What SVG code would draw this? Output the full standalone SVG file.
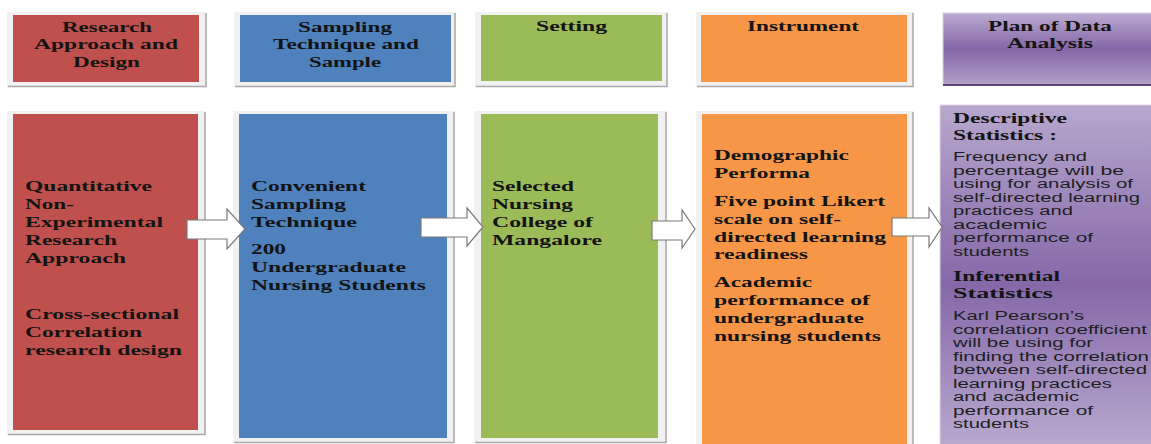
<svg xmlns="http://www.w3.org/2000/svg" width="1151" height="444" viewBox="0 0 1151 444">
<style>
.frame{fill:#f1f1f1}
.shadow{fill:none;stroke:#a9a9a9;stroke-width:1.5}
.red{fill:#c0504d}
.blue{fill:#4f81bd}
.green{fill:#9bbb59}
.orange{fill:#f79646}
.b{font-family:"Liberation Serif","Times New Roman",serif;font-weight:bold;font-size:14px;fill:#141414}
.s{font-family:"Liberation Sans",Arial,sans-serif;font-size:12.5px;fill:#1e1e1e}
.arrow{fill:#ffffff;stroke:#7a7a7a;stroke-width:1.2}
</style>
<defs>
<linearGradient id="pTop" x1="0" y1="0" x2="0" y2="1">
<stop offset="0" stop-color="#bcabd2"/>
<stop offset="0.5" stop-color="#8466a6"/>
<stop offset="1" stop-color="#b3a1ca"/>
</linearGradient>
<linearGradient id="pBot" x1="0" y1="0" x2="0" y2="1">
<stop offset="0" stop-color="#b7a7cd"/>
<stop offset="0.52" stop-color="#8668a9"/>
<stop offset="1" stop-color="#b9aacf"/>
</linearGradient>
</defs>
<rect width="1151" height="444" fill="#ffffff"/>

<g id="node-research-title">
<rect class="frame" x="7" y="12" width="200" height="75"/>
<path class="shadow" d="M206,13 V86.5 H8"/>
<rect class="red" x="13" y="15" width="186" height="67"/>
<text class="b" x="62" y="32" textLength="90" lengthAdjust="spacingAndGlyphs">Research</text>
<text class="b" x="34" y="49" textLength="144" lengthAdjust="spacingAndGlyphs">Approach and</text>
<text class="b" x="73" y="67" textLength="67" lengthAdjust="spacingAndGlyphs">Design</text>
</g>

<g id="node-sampling-title">
<rect class="frame" x="234" y="12" width="222" height="75"/>
<path class="shadow" d="M455,13 V86.5 H235"/>
<rect class="blue" x="240" y="15" width="211" height="67"/>
<text class="b" x="298" y="32" textLength="94" lengthAdjust="spacingAndGlyphs">Sampling</text>
<text class="b" x="273" y="49" textLength="146" lengthAdjust="spacingAndGlyphs">Technique and</text>
<text class="b" x="309" y="67" textLength="72" lengthAdjust="spacingAndGlyphs">Sample</text>
</g>

<g id="node-setting-title">
<rect class="frame" x="475" y="12" width="193" height="75"/>
<path class="shadow" d="M667,13 V86.5 H476"/>
<rect class="green" x="481" y="15" width="181" height="66"/>
<text class="b" x="536" y="31" textLength="71" lengthAdjust="spacingAndGlyphs">Setting</text>
</g>

<g id="node-instrument-title">
<rect class="frame" x="696" y="12" width="218" height="75"/>
<path class="shadow" d="M913,13 V86.5 H697"/>
<rect class="orange" x="701" y="15" width="206" height="67"/>
<text class="b" x="747" y="31" textLength="112" lengthAdjust="spacingAndGlyphs">Instrument</text>
</g>

<g id="node-analysis-title">
<rect x="943" y="13" width="210" height="72" fill="url(#pTop)" stroke="#d9d2e3" stroke-width="1"/>
<path d="M943,85 H1151" stroke="#5a4775" stroke-width="2" fill="none"/>
<text class="b" x="988" y="31" textLength="124" lengthAdjust="spacingAndGlyphs">Plan of Data</text>
<text class="b" x="1007" y="48" textLength="86" lengthAdjust="spacingAndGlyphs">Analysis</text>
</g>

<g id="node-research">
<rect class="frame" x="7" y="111" width="199" height="324"/>
<path class="shadow" d="M205,112 V434.5 H8"/>
<rect class="red" x="13" y="114" width="185" height="316"/>
<text class="b" x="25" y="191" textLength="127" lengthAdjust="spacingAndGlyphs">Quantitative</text>
<text class="b" x="25" y="209" textLength="49" lengthAdjust="spacingAndGlyphs">Non-</text>
<text class="b" x="25" y="227" textLength="138" lengthAdjust="spacingAndGlyphs">Experimental</text>
<text class="b" x="25" y="245" textLength="92" lengthAdjust="spacingAndGlyphs">Research</text>
<text class="b" x="25" y="263" textLength="101" lengthAdjust="spacingAndGlyphs">Approach</text>
<text class="b" x="25" y="319" textLength="154" lengthAdjust="spacingAndGlyphs">Cross-sectional</text>
<text class="b" x="25" y="337" textLength="117" lengthAdjust="spacingAndGlyphs">Correlation</text>
<text class="b" x="25" y="355" textLength="157" lengthAdjust="spacingAndGlyphs">research design</text>
</g>

<g id="node-sampling">
<rect class="frame" x="233" y="111" width="222" height="332"/>
<path class="shadow" d="M454,112 V442.5 H234"/>
<rect class="blue" x="239" y="114" width="208" height="324"/>
<text class="b" x="251" y="191" textLength="115" lengthAdjust="spacingAndGlyphs">Convenient</text>
<text class="b" x="251" y="209" textLength="95" lengthAdjust="spacingAndGlyphs">Sampling</text>
<text class="b" x="251" y="227" textLength="106" lengthAdjust="spacingAndGlyphs">Technique</text>
<text class="b" x="251" y="254" textLength="35" lengthAdjust="spacingAndGlyphs">200</text>
<text class="b" x="251" y="272" textLength="155" lengthAdjust="spacingAndGlyphs">Undergraduate</text>
<text class="b" x="251" y="290" textLength="175" lengthAdjust="spacingAndGlyphs">Nursing Students</text>
</g>

<g id="node-setting">
<rect class="frame" x="474" y="111" width="193" height="332"/>
<path class="shadow" d="M666,112 V442.5 H475"/>
<rect class="green" x="481" y="114" width="177" height="324"/>
<text class="b" x="492" y="191" textLength="82" lengthAdjust="spacingAndGlyphs">Selected</text>
<text class="b" x="492" y="209" textLength="81" lengthAdjust="spacingAndGlyphs">Nursing</text>
<text class="b" x="492" y="227" textLength="101" lengthAdjust="spacingAndGlyphs">College of</text>
<text class="b" x="492" y="245" textLength="110" lengthAdjust="spacingAndGlyphs">Mangalore</text>
</g>

<g id="node-instrument">
<rect class="frame" x="696" y="111" width="218" height="340"/>
<path class="shadow" d="M913,112 V444"/>
<rect class="orange" x="702" y="114" width="205" height="335"/>
<text class="b" x="714" y="160" textLength="135" lengthAdjust="spacingAndGlyphs">Demographic</text>
<text class="b" x="714" y="178" textLength="96" lengthAdjust="spacingAndGlyphs">Performa</text>
<text class="b" x="714" y="206" textLength="171" lengthAdjust="spacingAndGlyphs">Five point Likert</text>
<text class="b" x="714" y="224" textLength="127" lengthAdjust="spacingAndGlyphs">scale on self-</text>
<text class="b" x="714" y="242" textLength="172" lengthAdjust="spacingAndGlyphs">directed learning</text>
<text class="b" x="714" y="259" textLength="94" lengthAdjust="spacingAndGlyphs">readiness</text>
<text class="b" x="714" y="287" textLength="98" lengthAdjust="spacingAndGlyphs">Academic</text>
<text class="b" x="714" y="305" textLength="156" lengthAdjust="spacingAndGlyphs">performance of</text>
<text class="b" x="714" y="323" textLength="150" lengthAdjust="spacingAndGlyphs">undergraduate</text>
<text class="b" x="714" y="341" textLength="167" lengthAdjust="spacingAndGlyphs">nursing students</text>
</g>

<g id="node-analysis">
<rect x="940" y="105" width="214" height="345" fill="url(#pBot)" stroke="#ddd6e6" stroke-width="1"/>
<text class="b" x="953" y="123" textLength="114" lengthAdjust="spacingAndGlyphs">Descriptive</text>
<text class="b" x="953" y="140" textLength="104" lengthAdjust="spacingAndGlyphs">Statistics :</text>
<text class="s" x="953" y="161" textLength="134" lengthAdjust="spacingAndGlyphs">Frequency and</text>
<text class="s" x="953" y="175" textLength="171" lengthAdjust="spacingAndGlyphs">percentage will be</text>
<text class="s" x="953" y="188" textLength="180" lengthAdjust="spacingAndGlyphs">using for analysis of</text>
<text class="s" x="953" y="202" textLength="187" lengthAdjust="spacingAndGlyphs">self-directed learning</text>
<text class="s" x="953" y="215" textLength="120" lengthAdjust="spacingAndGlyphs">practices and</text>
<text class="s" x="953" y="229" textLength="94" lengthAdjust="spacingAndGlyphs">academic</text>
<text class="s" x="953" y="242" textLength="140" lengthAdjust="spacingAndGlyphs">performance of</text>
<text class="s" x="953" y="256" textLength="76" lengthAdjust="spacingAndGlyphs">students</text>
<text class="b" x="953" y="281" textLength="107" lengthAdjust="spacingAndGlyphs">Inferential</text>
<text class="b" x="953" y="298" textLength="100" lengthAdjust="spacingAndGlyphs">Statistics</text>
<text class="s" x="953" y="320" textLength="131" lengthAdjust="spacingAndGlyphs">Karl Pearson’s</text>
<text class="s" x="953" y="334" textLength="194" lengthAdjust="spacingAndGlyphs">correlation coefficient</text>
<text class="s" x="953" y="347" textLength="140" lengthAdjust="spacingAndGlyphs">will be using for</text>
<text class="s" x="953" y="361" textLength="196" lengthAdjust="spacingAndGlyphs">finding the correlation</text>
<text class="s" x="953" y="374" textLength="194" lengthAdjust="spacingAndGlyphs">between self-directed</text>
<text class="s" x="953" y="388" textLength="159" lengthAdjust="spacingAndGlyphs">learning practices</text>
<text class="s" x="953" y="401" textLength="126" lengthAdjust="spacingAndGlyphs">and academic</text>
<text class="s" x="953" y="415" textLength="140" lengthAdjust="spacingAndGlyphs">performance of</text>
<text class="s" x="953" y="428" textLength="76" lengthAdjust="spacingAndGlyphs">students</text>
</g>

<g id="connectors">
<polygon class="arrow" points="187,220 227,220 227,209 245,229 227,249 227,239 187,239"/>
<polygon class="arrow" points="421,218 467,218 467,208 483,227 467,246 467,237 421,237"/>
<polygon class="arrow" points="652,221 682,221 682,210 695,229 682,248 682,240 652,240"/>
<polygon class="arrow" points="892,218 929,218 929,208 942,227 929,247 929,236 892,236"/>
</g>
</svg>
